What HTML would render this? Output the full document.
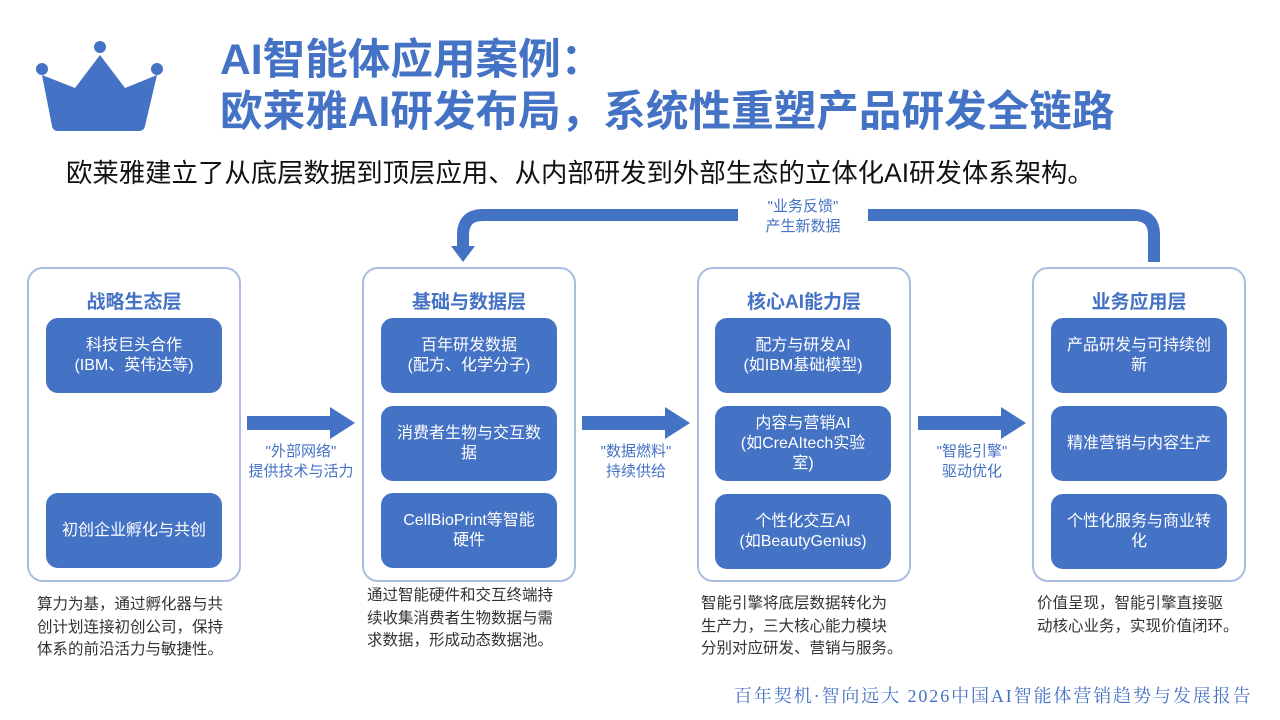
<!DOCTYPE html>
<html><head><meta charset="utf-8">
<style>
*{margin:0;padding:0;box-sizing:border-box}
body{width:1280px;height:720px;background:#fff;position:relative;overflow:hidden;font-family:"Liberation Sans","Noto Sans CJK SC",sans-serif}
.a{position:absolute}
.t{color:#4472C4;font-weight:bold;font-size:42.6px;line-height:52px;left:220px;white-space:nowrap}
.cont{position:absolute;top:267px;width:214px;height:315px;border:2px solid #a9bde3;border-radius:16px}
.ct{position:absolute;top:287px;width:214px;text-align:center;color:#4472C4;font-weight:bold;font-size:19px}
.box{position:absolute;width:176px;height:75px;background:#4472C4;border-radius:12px;color:#fff;font-size:16px;line-height:20px;display:flex;align-items:center;justify-content:center;text-align:center;padding:0 10px}
.desc{position:absolute;font-size:15.5px;line-height:22.5px;color:#333;width:240px;white-space:nowrap}
.lab{position:absolute;color:#4472C4;font-size:15px;line-height:20px;text-align:center;width:130px}
</style></head><body>
<svg class="a" style="left:0;top:0" width="1280" height="720">
<g fill="#4472C4">
<circle cx="42" cy="69" r="6"/><circle cx="100" cy="47" r="6"/><circle cx="157" cy="69" r="6"/>
<path d="M42 75 L75 88 L100 55 L125 88 L157 75 L145 126 Q144 131 139 131 L58 131 Q53 131 52 126 Z"/>
<path d="M247 416 H330 V407 L355 423 L330 439 V430 H247 Z"/>
<path d="M582 416 H665 V407 L690 423 L665 439 V430 H582 Z"/>
<path d="M918 416 H1001 V407 L1026 423 L1001 439 V430 H918 Z"/>
</g>
<path d="M1154 262 V235 Q1154 215 1134 215 H483 Q463 215 463 235 V248" fill="none" stroke="#4472C4" stroke-width="12"/>
<path d="M451 246 L475 246 L463 262 Z" fill="#4472C4"/>
<rect x="738" y="200" width="130" height="40" fill="#fff"/>
</svg>
<div class="a t" style="top:34px">AI智能体应用案例：</div>
<div class="a t" style="top:86px">欧莱雅AI研发布局，系统性重塑产品研发全链路</div>
<div class="a" style="left:66px;top:156px;font-size:26.4px;line-height:34px;color:#111;white-space:nowrap">欧莱雅建立了从底层数据到顶层应用、从内部研发到外部生态的立体化AI研发体系架构。</div>
<div class="lab" style="left:738px;top:197px">"业务反馈"<br>产生新数据</div>

<div class="cont" style="left:27px"></div><div class="ct" style="left:27px">战略生态层</div>
<div class="box" style="left:46px;top:318px">科技巨头合作<br>(IBM、英伟达等)</div>
<div class="box" style="left:46px;top:493px">初创企业孵化与共创</div>

<div class="cont" style="left:362px"></div><div class="ct" style="left:362px">基础与数据层</div>
<div class="box" style="left:381px;top:318px">百年研发数据<br>(配方、化学分子)</div>
<div class="box" style="left:381px;top:406px">消费者生物与交互数<br>据</div>
<div class="box" style="left:381px;top:493px">CellBioPrint等智能<br>硬件</div>

<div class="cont" style="left:697px"></div><div class="ct" style="left:697px">核心AI能力层</div>
<div class="box" style="left:715px;top:318px">配方与研发AI<br>(如IBM基础模型)</div>
<div class="box" style="left:715px;top:406px">内容与营销AI<br>(如CreAItech实验<br>室)</div>
<div class="box" style="left:715px;top:494px">个性化交互AI<br>(如BeautyGenius)</div>

<div class="cont" style="left:1032px"></div><div class="ct" style="left:1032px">业务应用层</div>
<div class="box" style="left:1051px;top:318px">产品研发与可持续创<br>新</div>
<div class="box" style="left:1051px;top:406px">精准营销与内容生产</div>
<div class="box" style="left:1051px;top:494px">个性化服务与商业转<br>化</div>

<div class="lab" style="left:236px;top:442px">"外部网络"<br>提供技术与活力</div>
<div class="lab" style="left:571px;top:442px">"数据燃料"<br>持续供给</div>
<div class="lab" style="left:907px;top:442px">"智能引擎"<br>驱动优化</div>

<div class="desc" style="left:37px;top:594px">算力为基，通过孵化器与共<br>创计划连接初创公司，保持<br>体系的前沿活力与敏捷性。</div>
<div class="desc" style="left:367px;top:585px">通过智能硬件和交互终端持<br>续收集消费者生物数据与需<br>求数据，形成动态数据池。</div>
<div class="desc" style="left:701px;top:593px">智能引擎将底层数据转化为<br>生产力，三大核心能力模块<br>分别对应研发、营销与服务。</div>
<div class="desc" style="left:1037px;top:593px">价值呈现，智能引擎直接驱<br>动核心业务，实现价值闭环。</div>

<div class="a" style="left:734px;top:682px;font-family:'Liberation Serif','Noto Serif CJK SC',serif;color:#4472C4;font-size:18px;letter-spacing:1.9px;white-space:nowrap">百年契机·智向远大 2026中国AI智能体营销趋势与发展报告</div>
</body></html>
